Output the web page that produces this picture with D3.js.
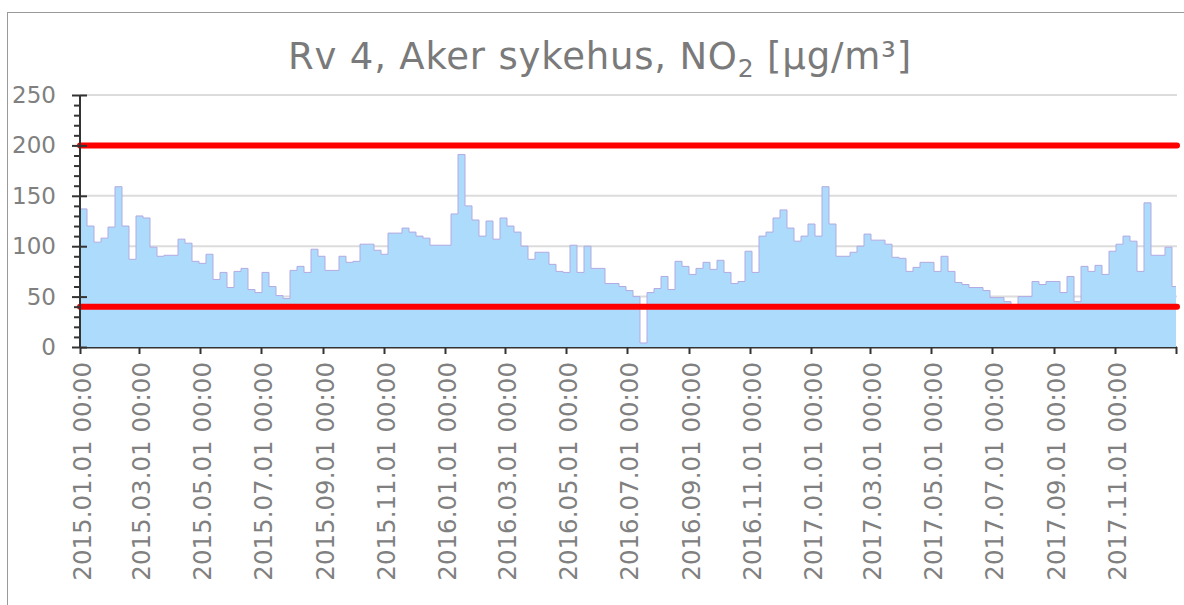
<!DOCTYPE html>
<html>
<head>
<meta charset="utf-8">
<script src="https://cdn.jsdelivr.net/npm/d3@7/dist/d3.min.js"></script>
<style>
  body { margin: 0; background: #fff; }
  svg { display: block; font-family: "DejaVu Sans", Verdana, sans-serif; }
</style>
</head>
<body>
<svg id="chart" width="1184" height="605"></svg>
<script>
  // weekly peak of hourly NO2, starting 2015-01-01
  const startDate = new Date(2015, 0, 1);
  const endDate = new Date(2018, 0, 1);
  const weeklyPeak = [
    137, 120, 104, 108, 119, 159, 120, 87, 130, 128, 99, 90, 91, 91, 107, 103, 85, 83, 92, 67,
    74, 59, 75, 78, 57, 54, 74, 60, 51, 48, 76, 80, 74, 97, 90, 76, 76, 90, 84, 85,
    102, 102, 96, 92, 113, 113, 118, 114, 110, 108, 101, 101, 101, 132, 191, 140, 126, 110, 125, 107,
    128, 120, 114, 100, 87, 94, 94, 82, 75, 74, 101, 74, 100, 78, 78, 63, 63, 60, 56, 50,
    4, 54, 58, 70, 57, 85, 80, 72, 78, 84, 77, 86, 74, 63, 65, 95, 74, 110, 114, 128,
    136, 118, 105, 110, 122, 110, 159, 122, 90, 90, 94, 100, 112, 106, 106, 102, 89, 88, 75, 79,
    84, 84, 75, 90, 75, 64, 62, 59, 59, 56, 49, 49, 45, 40, 50, 50, 65, 62, 65, 65,
    54, 70, 45, 80, 75, 81, 72, 95, 102, 110, 105, 75, 143, 91, 91, 99, 60
  ];
  const limitValues = [200, 40];
  const yTicks = [0, 50, 100, 150, 200, 250];
  const xTickLabels = [
    "2015.01.01 00:00", "2015.03.01 00:00", "2015.05.01 00:00", "2015.07.01 00:00",
    "2015.09.01 00:00", "2015.11.01 00:00", "2016.01.01 00:00", "2016.03.01 00:00",
    "2016.05.01 00:00", "2016.07.01 00:00", "2016.09.01 00:00", "2016.11.01 00:00",
    "2017.01.01 00:00", "2017.03.01 00:00", "2017.05.01 00:00", "2017.07.01 00:00",
    "2017.09.01 00:00", "2017.11.01 00:00"
  ];

  const parseLabel = d3.timeParse("%Y.%m.%d %H:%M");
  const svg = d3.select("#chart");
  const gray = "#808080";

  // frame
  svg.append("rect")
    .attr("x", 7.5).attr("y", 12.5)
    .attr("width", 1200).attr("height", 700)
    .attr("fill", "none").attr("stroke", "#9a9a9a").attr("stroke-width", 1);

  const x = d3.scaleTime().domain([startDate, endDate]).range([80, 1176]);
  const y = d3.scaleLinear().domain([0, 250]).range([347, 95]);

  // gridlines
  svg.append("g").selectAll("line")
    .data(yTicks.filter(d => d > 0))
    .join("line")
    .attr("x1", 80).attr("x2", 1177)
    .attr("y1", d => y(d)).attr("y2", d => y(d))
    .attr("stroke", "#dcdcdc").attr("stroke-width", 2);

  // x axis line + ticks
  svg.append("line")
    .attr("x1", 80).attr("x2", 1177).attr("y1", 347.5).attr("y2", 347.5)
    .attr("stroke", "#333").attr("stroke-width", 2);

  const xAxis = svg.append("g")
    .attr("transform", "translate(0,347)")
    .call(d3.axisBottom(x)
      .tickValues(xTickLabels.map(parseLabel).concat([endDate]))
      .tickSize(7)
      .tickFormat(""));
  xAxis.select(".domain").remove();
  xAxis.selectAll("line").attr("stroke", "#333").attr("stroke-width", 2);

  // series
  const pts = weeklyPeak.map((v, i) => ({ date: d3.timeDay.offset(startDate, i * 7), value: v }));
  pts.push({ date: endDate, value: weeklyPeak[weeklyPeak.length - 1] });

  svg.append("path")
    .datum(pts)
    .attr("fill", "#addbfc")
    .attr("d", d3.area()
      .curve(d3.curveStepAfter)
      .x(d => x(d.date))
      .y0(y(0))
      .y1(d => y(d.value)));

  svg.append("path")
    .datum(pts)
    .attr("fill", "none")
    .attr("stroke", "#b3aae2")
    .attr("stroke-width", 1)
    .attr("d", d3.line()
      .curve(d3.curveStepAfter)
      .x(d => x(d.date))
      .y(d => y(d.value)));

  // limit lines
  svg.append("g").selectAll("line")
    .data(limitValues)
    .join("line")
    .attr("x1", 80).attr("x2", 1177)
    .attr("y1", d => y(d)).attr("y2", d => y(d))
    .attr("stroke", "#ff0000").attr("stroke-width", 6)
    .attr("stroke-linecap", "round");

  // y axis
  const yAxis = svg.append("g")
    .attr("transform", "translate(80,0)")
    .call(d3.axisLeft(y).tickValues(d3.range(0, 251, 10)).tickSize(6).tickFormat(""));
  yAxis.select(".domain").attr("stroke", "#333").attr("stroke-width", 2)
    .attr("d", `M0,${y(250)}V${y(0)}`);
  yAxis.selectAll(".tick line")
    .attr("stroke", "#333").attr("stroke-width", 2)
    .attr("x1", d => yTicks.includes(d) ? 7 : 0)
    .attr("x2", d => yTicks.includes(d) ? -8 : -6);

  svg.append("g").selectAll("text")
    .data(yTicks)
    .join("text")
    .attr("x", 56).attr("y", d => y(d))
    .attr("dy", "0.35em")
    .attr("text-anchor", "end")
    .attr("font-size", 23)
    .attr("fill", gray)
    .text(d => d);

  // x tick labels
  svg.append("g").selectAll("text")
    .data(xTickLabels)
    .join("text")
    .attr("transform", d => `translate(${x(parseLabel(d))},362) rotate(-90)`)
    .attr("dy", "0.43em")
    .attr("text-anchor", "end")
    .attr("font-size", 24.5)
    .attr("fill", gray)
    .text(d => d);

  // title
  const title = svg.append("text")
    .attr("x", 600).attr("y", 69)
    .attr("text-anchor", "middle")
    .attr("font-size", 37)
    .attr("letter-spacing", 0.8)
    .attr("fill", "#7a7a7a");
  title.append("tspan").text("Rv 4, Aker sykehus, NO");
  title.append("tspan").attr("font-size", 25).attr("dy", 8).text("2");
  title.append("tspan").attr("dy", -8).text(" [µg/m³]");
</script>
</body>
</html>
